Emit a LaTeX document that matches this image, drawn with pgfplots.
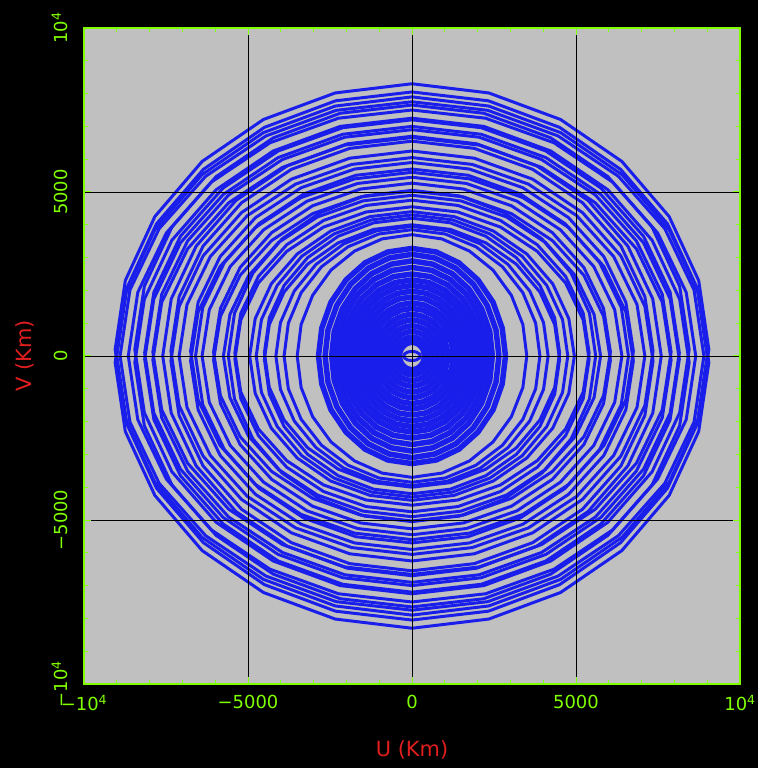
\documentclass[border=0pt]{standalone}
\usepackage{pgfplots}
\pgfplotsset{compat=1.18}
\usepackage{fontspec}
\setmainfont{DejaVu Sans}
\definecolor{tickgreen}{RGB}{128,255,0}
\definecolor{labred}{RGB}{225,30,30}
\definecolor{uvblue}{RGB}{25,30,235}
\definecolor{panel}{RGB}{192,192,192}
\begin{document}
\begin{tikzpicture}
\fill[black] (-84bp,-84bp) rectangle (674bp,684bp);
\begin{axis}[
  at={(0,0)}, anchor=south west,
  width=656bp, height=656bp, scale only axis,
  xmin=-10000, xmax=10000, ymin=-10000, ymax=10000,
  scaled ticks=false,
  axis on top,
  axis background/.style={fill=panel},
  axis line style={tickgreen, line width=1.6pt},
  xtick={-10000,-5000,0,5000,10000},
  ytick={-10000,-5000,0,5000,10000},
  xticklabels={{−10\textsuperscript{4}},{−5000},{0},{5000},{10\textsuperscript{4}}},
  yticklabels={{−10\textsuperscript{4}},{−5000},{0},{5000},{10\textsuperscript{4}}},
  minor tick num=4,
  tick align=inside,
  major tick length=7bp, minor tick length=4bp,
  tick style={tickgreen, line width=1pt},
  grid=major,
  major grid style={black, line width=0.8pt},
  ticklabel style={font=\fontsize{18}{18}\selectfont, text=tickgreen},
  yticklabel style={rotate=90, anchor=south},
  yticklabel shift=13bp,
  xticklabel shift=8bp,
  label style={font=\fontsize{21}{21}\selectfont, text=labred},
  xlabel={U (Km)}, ylabel={V (Km)},
  xlabel style={at={(axis description cs:0.5,-0.1006)}, anchor=center},
  ylabel style={at={(axis description cs:-0.09,0.5)}, anchor=center, rotate=0},
  clip=true,
  track/.style={uvblue, line width=3pt, line join=round},
  inner/.style={uvblue, line width=5.5pt, line join=round},
]
% long baselines: each track and its conjugate (v -> -v)
\addplot[track] coordinates {(9050,200)(8740,2300)(7840,4250)(6400,5930)(4530,7210)(2340,8020)(0,8300)(-2340,8020)(-4530,7210)(-6400,5930)(-7840,4250)(-8740,2300)(-9050,200)(-8740,-1900)(-7840,-3850)(-6400,-5530)(-4530,-6810)(-2340,-7620)(0,-7900)(2340,-7620)(4530,-6810)(6400,-5530)(7840,-3850)(8740,-1900)(9050,200)};
\addplot[track] coordinates {(9050,-200)(8740,-2300)(7840,-4250)(6400,-5930)(4530,-7210)(2340,-8020)(0,-8300)(-2340,-8020)(-4530,-7210)(-6400,-5930)(-7840,-4250)(-8740,-2300)(-9050,-200)(-8740,1900)(-7840,3850)(-6400,5530)(-4530,6810)(-2340,7620)(0,7900)(2340,7620)(4530,6810)(6400,5530)(7840,3850)(8740,1900)(9050,-200)};
\addplot[track] coordinates {(9000,0)(8690,2080)(7790,4030)(6360,5690)(4500,6970)(2330,7780)(0,8050)(-2330,7780)(-4500,6970)(-6360,5690)(-7790,4030)(-8690,2080)(-9000,0)(-8690,-2080)(-7790,-4030)(-6360,-5690)(-4500,-6970)(-2330,-7780)(0,-8050)(2330,-7780)(4500,-6970)(6360,-5690)(7790,-4030)(8690,-2080)(9000,0)};
\addplot[track] coordinates {(8900,0)(8600,2010)(7710,3880)(6290,5480)(4450,6710)(2310,7490)(0,7750)(-2310,7490)(-4450,6710)(-6290,5480)(-7710,3880)(-8600,2010)(-8900,0)(-8600,-2010)(-7710,-3880)(-6290,-5480)(-4450,-6710)(-2310,-7490)(0,-7750)(2310,-7490)(4450,-6710)(6290,-5480)(7710,-3880)(8600,-2010)(8900,0)};
\addplot[track] coordinates {(8650,0)(8360,1940)(7490,3750)(6120,5300)(4330,6500)(2240,7250)(0,7500)(-2240,7250)(-4330,6500)(-6120,5300)(-7490,3750)(-8360,1940)(-8650,0)(-8360,-1940)(-7490,-3750)(-6120,-5300)(-4330,-6500)(-2240,-7250)(0,-7500)(2240,-7250)(4330,-6500)(6120,-5300)(7490,-3750)(8360,-1940)(8650,0)};
\addplot[track] coordinates {(8450,200)(8160,2130)(7320,3930)(5970,5470)(4230,6650)(2190,7400)(0,7650)(-2190,7400)(-4230,6650)(-5970,5470)(-7320,3930)(-8160,2130)(-8450,200)(-8160,-1730)(-7320,-3530)(-5970,-5070)(-4230,-6250)(-2190,-7000)(0,-7250)(2190,-7000)(4230,-6250)(5970,-5070)(7320,-3530)(8160,-1730)(8450,200)};
\addplot[track] coordinates {(8450,-200)(8160,-2130)(7320,-3930)(5970,-5470)(4230,-6650)(2190,-7400)(0,-7650)(-2190,-7400)(-4230,-6650)(-5970,-5470)(-7320,-3930)(-8160,-2130)(-8450,-200)(-8160,1730)(-7320,3530)(-5970,5070)(-4230,6250)(-2190,7000)(0,7250)(2190,7000)(4230,6250)(5970,5070)(7320,3530)(8160,1730)(8450,-200)};
\addplot[track] coordinates {(8150,100)(7870,1940)(7060,3650)(5760,5120)(4080,6250)(2110,6960)(0,7200)(-2110,6960)(-4080,6250)(-5760,5120)(-7060,3650)(-7870,1940)(-8150,100)(-7870,-1740)(-7060,-3450)(-5760,-4920)(-4080,-6050)(-2110,-6760)(0,-7000)(2110,-6760)(4080,-6050)(5760,-4920)(7060,-3450)(7870,-1740)(8150,100)};
\addplot[track] coordinates {(8150,-100)(7870,-1940)(7060,-3650)(5760,-5120)(4080,-6250)(2110,-6960)(0,-7200)(-2110,-6960)(-4080,-6250)(-5760,-5120)(-7060,-3650)(-7870,-1940)(-8150,-100)(-7870,1740)(-7060,3450)(-5760,4920)(-4080,6050)(-2110,6760)(0,7000)(2110,6760)(4080,6050)(5760,4920)(7060,3450)(7870,1740)(8150,-100)};
\addplot[track] coordinates {(7900,120)(7630,1880)(6840,3510)(5590,4910)(3950,5990)(2050,6670)(0,6900)(-2050,6670)(-3950,5990)(-5590,4910)(-6840,3510)(-7630,1880)(-7900,120)(-7630,-1640)(-6840,-3270)(-5590,-4670)(-3950,-5750)(-2050,-6430)(0,-6660)(2050,-6430)(3950,-5750)(5590,-4670)(6840,-3270)(7630,-1640)(7900,120)};
\addplot[track] coordinates {(7900,-120)(7630,-1880)(6840,-3510)(5590,-4910)(3950,-5990)(2050,-6670)(0,-6900)(-2050,-6670)(-3950,-5990)(-5590,-4910)(-6840,-3510)(-7630,-1880)(-7900,-120)(-7630,1640)(-6840,3270)(-5590,4670)(-3950,5750)(-2050,6430)(0,6660)(2050,6430)(3950,5750)(5590,4670)(6840,3270)(7630,1640)(7900,-120)};
\addplot[track] coordinates {(7600,0)(7340,1740)(6580,3350)(5370,4740)(3800,5800)(1970,6470)(0,6700)(-1970,6470)(-3800,5800)(-5370,4740)(-6580,3350)(-7340,1740)(-7600,0)(-7340,-1740)(-6580,-3350)(-5370,-4740)(-3800,-5800)(-1970,-6470)(0,-6700)(1970,-6470)(3800,-5800)(5370,-4740)(6580,-3350)(7340,-1740)(7600,0)};
\addplot[track] coordinates {(7350,150)(7100,1810)(6370,3350)(5200,4670)(3680,5690)(1900,6330)(0,6550)(-1900,6330)(-3680,5690)(-5200,4670)(-6370,3350)(-7100,1810)(-7350,150)(-7100,-1510)(-6370,-3050)(-5200,-4370)(-3680,-5390)(-1900,-6030)(0,-6250)(1900,-6030)(3680,-5390)(5200,-4370)(6370,-3050)(7100,-1510)(7350,150)};
\addplot[track] coordinates {(7350,-150)(7100,-1810)(6370,-3350)(5200,-4670)(3680,-5690)(1900,-6330)(0,-6550)(-1900,-6330)(-3680,-5690)(-5200,-4670)(-6370,-3350)(-7100,-1810)(-7350,-150)(-7100,1510)(-6370,3050)(-5200,4370)(-3680,5390)(-1900,6030)(0,6250)(1900,6030)(3680,5390)(5200,4370)(6370,3050)(7100,1510)(7350,-150)};
\addplot[track] coordinates {(7100,0)(6860,1570)(6150,3030)(5020,4280)(3550,5240)(1840,5840)(0,6050)(-1840,5840)(-3550,5240)(-5020,4280)(-6150,3030)(-6860,1570)(-7100,0)(-6860,-1570)(-6150,-3030)(-5020,-4280)(-3550,-5240)(-1840,-5840)(0,-6050)(1840,-5840)(3550,-5240)(5020,-4280)(6150,-3030)(6860,-1570)(7100,0)};
\addplot[track] coordinates {(6750,150)(6520,1640)(5850,3030)(4770,4220)(3380,5130)(1750,5700)(0,5900)(-1750,5700)(-3380,5130)(-4770,4220)(-5850,3030)(-6520,1640)(-6750,150)(-6520,-1340)(-5850,-2730)(-4770,-3920)(-3380,-4830)(-1750,-5400)(0,-5600)(1750,-5400)(3380,-4830)(4770,-3920)(5850,-2730)(6520,-1340)(6750,150)};
\addplot[track] coordinates {(6750,-150)(6520,-1640)(5850,-3030)(4770,-4220)(3380,-5130)(1750,-5700)(0,-5900)(-1750,-5700)(-3380,-5130)(-4770,-4220)(-5850,-3030)(-6520,-1640)(-6750,-150)(-6520,1340)(-5850,2730)(-4770,3920)(-3380,4830)(-1750,5400)(0,5600)(1750,5400)(3380,4830)(4770,3920)(5850,2730)(6520,1340)(6750,-150)};
\addplot[track] coordinates {(6600,0)(6380,1480)(5720,2850)(4670,4030)(3300,4940)(1710,5510)(0,5700)(-1710,5510)(-3300,4940)(-4670,4030)(-5720,2850)(-6380,1480)(-6600,0)(-6380,-1480)(-5720,-2850)(-4670,-4030)(-3300,-4940)(-1710,-5510)(0,-5700)(1710,-5510)(3300,-4940)(4670,-4030)(5720,-2850)(6380,-1480)(6600,0)};
\addplot[track] coordinates {(6400,0)(6180,1410)(5540,2730)(4520,3850)(3200,4720)(1660,5260)(0,5450)(-1660,5260)(-3200,4720)(-4520,3850)(-5540,2730)(-6180,1410)(-6400,0)(-6180,-1410)(-5540,-2730)(-4520,-3850)(-3200,-4720)(-1660,-5260)(0,-5450)(1660,-5260)(3200,-4720)(4520,-3850)(5540,-2730)(6180,-1410)(6400,0)};
\addplot[track] coordinates {(6050,120)(5840,1450)(5240,2700)(4280,3760)(3030,4580)(1570,5090)(0,5270)(-1570,5090)(-3030,4580)(-4280,3760)(-5240,2700)(-5840,1450)(-6050,120)(-5840,-1210)(-5240,-2460)(-4280,-3520)(-3030,-4340)(-1570,-4850)(0,-5030)(1570,-4850)(3030,-4340)(4280,-3520)(5240,-2460)(5840,-1210)(6050,120)};
\addplot[track] coordinates {(6050,-120)(5840,-1450)(5240,-2700)(4280,-3760)(3030,-4580)(1570,-5090)(0,-5270)(-1570,-5090)(-3030,-4580)(-4280,-3760)(-5240,-2700)(-5840,-1450)(-6050,-120)(-5840,1210)(-5240,2460)(-4280,3520)(-3030,4340)(-1570,4850)(0,5030)(1570,4850)(3030,4340)(4280,3520)(5240,2460)(5840,1210)(6050,-120)};
\addplot[track] coordinates {(5750,0)(5550,1270)(4980,2450)(4070,3460)(2880,4240)(1490,4730)(0,4900)(-1490,4730)(-2880,4240)(-4070,3460)(-4980,2450)(-5550,1270)(-5750,0)(-5550,-1270)(-4980,-2450)(-4070,-3460)(-2880,-4240)(-1490,-4730)(0,-4900)(1490,-4730)(2880,-4240)(4070,-3460)(4980,-2450)(5550,-1270)(5750,0)};
\addplot[track] coordinates {(5600,0)(5410,1310)(4850,2530)(3960,3570)(2800,4370)(1450,4880)(0,5050)(-1450,4880)(-2800,4370)(-3960,3570)(-4850,2530)(-5410,1310)(-5600,0)(-5410,-1310)(-4850,-2530)(-3960,-3570)(-2800,-4370)(-1450,-4880)(0,-5050)(1450,-4880)(2800,-4370)(3960,-3570)(4850,-2530)(5410,-1310)(5600,0)};
\addplot[track] coordinates {(5400,100)(5220,1300)(4680,2430)(3820,3390)(2700,4130)(1400,4590)(0,4750)(-1400,4590)(-2700,4130)(-3820,3390)(-4680,2430)(-5220,1300)(-5400,100)(-5220,-1100)(-4680,-2230)(-3820,-3190)(-2700,-3930)(-1400,-4390)(0,-4550)(1400,-4390)(2700,-3930)(3820,-3190)(4680,-2230)(5220,-1100)(5400,100)};
\addplot[track] coordinates {(5400,-100)(5220,-1300)(4680,-2430)(3820,-3390)(2700,-4130)(1400,-4590)(0,-4750)(-1400,-4590)(-2700,-4130)(-3820,-3390)(-4680,-2430)(-5220,-1300)(-5400,-100)(-5220,1100)(-4680,2230)(-3820,3190)(-2700,3930)(-1400,4390)(0,4550)(1400,4390)(2700,3930)(3820,3190)(4680,2230)(5220,1100)(5400,-100)};
\addplot[track] coordinates {(4950,0)(4780,1140)(4290,2200)(3500,3110)(2480,3810)(1280,4250)(0,4400)(-1280,4250)(-2480,3810)(-3500,3110)(-4290,2200)(-4780,1140)(-4950,0)(-4780,-1140)(-4290,-2200)(-3500,-3110)(-2480,-3810)(-1280,-4250)(0,-4400)(1280,-4250)(2480,-3810)(3500,-3110)(4290,-2200)(4780,-1140)(4950,0)};
\addplot[track] coordinates {(4750,0)(4590,1110)(4110,2150)(3360,3040)(2380,3720)(1230,4150)(0,4300)(-1230,4150)(-2380,3720)(-3360,3040)(-4110,2150)(-4590,1110)(-4750,0)(-4590,-1110)(-4110,-2150)(-3360,-3040)(-2380,-3720)(-1230,-4150)(0,-4300)(1230,-4150)(2380,-3720)(3360,-3040)(4110,-2150)(4590,-1110)(4750,0)};
\addplot[track] coordinates {(4500,100)(4350,1160)(3900,2150)(3180,3000)(2250,3650)(1170,4060)(0,4200)(-1170,4060)(-2250,3650)(-3180,3000)(-3900,2150)(-4350,1160)(-4500,100)(-4350,-960)(-3900,-1950)(-3180,-2800)(-2250,-3450)(-1170,-3860)(0,-4000)(1170,-3860)(2250,-3450)(3180,-2800)(3900,-1950)(4350,-960)(4500,100)};
\addplot[track] coordinates {(4500,-100)(4350,-1160)(3900,-2150)(3180,-3000)(2250,-3650)(1170,-4060)(0,-4200)(-1170,-4060)(-2250,-3650)(-3180,-3000)(-3900,-2150)(-4350,-1160)(-4500,-100)(-4350,960)(-3900,1950)(-3180,2800)(-2250,3450)(-1170,3860)(0,4000)(1170,3860)(2250,3450)(3180,2800)(3900,1950)(4350,960)(4500,-100)};
\addplot[track] coordinates {(4150,0)(4010,1020)(3590,1980)(2930,2790)(2080,3420)(1070,3820)(0,3950)(-1070,3820)(-2080,3420)(-2930,2790)(-3590,1980)(-4010,1020)(-4150,0)(-4010,-1020)(-3590,-1980)(-2930,-2790)(-2080,-3420)(-1070,-3820)(0,-3950)(1070,-3820)(2080,-3420)(2930,-2790)(3590,-1980)(4010,-1020)(4150,0)};
\addplot[track] coordinates {(3900,0)(3770,1000)(3380,1930)(2760,2720)(1950,3330)(1010,3720)(0,3850)(-1010,3720)(-1950,3330)(-2760,2720)(-3380,1930)(-3770,1000)(-3900,0)(-3770,-1000)(-3380,-1930)(-2760,-2720)(-1950,-3330)(-1010,-3720)(0,-3850)(1010,-3720)(1950,-3330)(2760,-2720)(3380,-1930)(3770,-1000)(3900,0)};
\addplot[track] coordinates {(3500,0)(3380,960)(3030,1850)(2470,2620)(1750,3200)(910,3570)(0,3700)(-910,3570)(-1750,3200)(-2470,2620)(-3030,1850)(-3380,960)(-3500,0)(-3380,-960)(-3030,-1850)(-2470,-2620)(-1750,-3200)(-910,-3570)(0,-3700)(910,-3570)(1750,-3200)(2470,-2620)(3030,-1850)(3380,-960)(3500,0)};
% short baselines: dense inner tracks
\addplot[inner] coordinates {(2850,0)(2750,850)(2470,1640)(2010,2320)(1430,2840)(740,3170)(0,3280)(-740,3170)(-1430,2840)(-2010,2320)(-2470,1640)(-2750,850)(-2850,0)(-2750,-850)(-2470,-1640)(-2010,-2320)(-1430,-2840)(-740,-3170)(0,-3280)(740,-3170)(1430,-2840)(2010,-2320)(2470,-1640)(2750,-850)(2850,0)};
\addplot[inner] coordinates {(2650,0)(2560,800)(2290,1550)(1870,2190)(1330,2680)(690,2990)(0,3100)(-690,2990)(-1330,2680)(-1870,2190)(-2290,1550)(-2560,800)(-2650,0)(-2560,-800)(-2290,-1550)(-1870,-2190)(-1330,-2680)(-690,-2990)(0,-3100)(690,-2990)(1330,-2680)(1870,-2190)(2290,-1550)(2560,-800)(2650,0)};
\addplot[inner] coordinates {(2450,0)(2370,750)(2120,1450)(1730,2050)(1230,2510)(630,2800)(0,2900)(-630,2800)(-1230,2510)(-1730,2050)(-2120,1450)(-2370,750)(-2450,0)(-2370,-750)(-2120,-1450)(-1730,-2050)(-1230,-2510)(-630,-2800)(0,-2900)(630,-2800)(1230,-2510)(1730,-2050)(2120,-1450)(2370,-750)(2450,0)};
\addplot[inner] coordinates {(2300,0)(2220,700)(1990,1350)(1630,1910)(1150,2340)(600,2610)(0,2700)(-600,2610)(-1150,2340)(-1630,1910)(-1990,1350)(-2220,700)(-2300,0)(-2220,-700)(-1990,-1350)(-1630,-1910)(-1150,-2340)(-600,-2610)(0,-2700)(600,-2610)(1150,-2340)(1630,-1910)(1990,-1350)(2220,-700)(2300,0)};
\addplot[inner] coordinates {(2150,0)(2080,650)(1860,1250)(1520,1770)(1080,2170)(560,2420)(0,2500)(-560,2420)(-1080,2170)(-1520,1770)(-1860,1250)(-2080,650)(-2150,0)(-2080,-650)(-1860,-1250)(-1520,-1770)(-1080,-2170)(-560,-2420)(0,-2500)(560,-2420)(1080,-2170)(1520,-1770)(1860,-1250)(2080,-650)(2150,0)};
\addplot[inner] coordinates {(2000,0)(1930,600)(1730,1160)(1410,1640)(1000,2010)(520,2240)(0,2320)(-520,2240)(-1000,2010)(-1410,1640)(-1730,1160)(-1930,600)(-2000,0)(-1930,-600)(-1730,-1160)(-1410,-1640)(-1000,-2010)(-520,-2240)(0,-2320)(520,-2240)(1000,-2010)(1410,-1640)(1730,-1160)(1930,-600)(2000,0)};
\addplot[inner] coordinates {(1850,0)(1790,560)(1600,1080)(1310,1520)(930,1860)(480,2080)(0,2150)(-480,2080)(-930,1860)(-1310,1520)(-1600,1080)(-1790,560)(-1850,0)(-1790,-560)(-1600,-1080)(-1310,-1520)(-930,-1860)(-480,-2080)(0,-2150)(480,-2080)(930,-1860)(1310,-1520)(1600,-1080)(1790,-560)(1850,0)};
\addplot[inner] coordinates {(1700,0)(1640,510)(1470,990)(1200,1400)(850,1710)(440,1910)(0,1980)(-440,1910)(-850,1710)(-1200,1400)(-1470,990)(-1640,510)(-1700,0)(-1640,-510)(-1470,-990)(-1200,-1400)(-850,-1710)(-440,-1910)(0,-1980)(440,-1910)(850,-1710)(1200,-1400)(1470,-990)(1640,-510)(1700,0)};
\addplot[inner] coordinates {(1550,0)(1500,470)(1340,900)(1100,1270)(780,1560)(400,1740)(0,1800)(-400,1740)(-780,1560)(-1100,1270)(-1340,900)(-1500,470)(-1550,0)(-1500,-470)(-1340,-900)(-1100,-1270)(-780,-1560)(-400,-1740)(0,-1800)(400,-1740)(780,-1560)(1100,-1270)(1340,-900)(1500,-470)(1550,0)};
\addplot[inner] coordinates {(1400,0)(1350,420)(1210,810)(990,1150)(700,1400)(360,1560)(0,1620)(-360,1560)(-700,1400)(-990,1150)(-1210,810)(-1350,420)(-1400,0)(-1350,-420)(-1210,-810)(-990,-1150)(-700,-1400)(-360,-1560)(0,-1620)(360,-1560)(700,-1400)(990,-1150)(1210,-810)(1350,-420)(1400,0)};
\addplot[inner] coordinates {(1250,0)(1210,380)(1080,730)(880,1030)(630,1260)(320,1400)(0,1450)(-320,1400)(-630,1260)(-880,1030)(-1080,730)(-1210,380)(-1250,0)(-1210,-380)(-1080,-730)(-880,-1030)(-630,-1260)(-320,-1400)(0,-1450)(320,-1400)(630,-1260)(880,-1030)(1080,-730)(1210,-380)(1250,0)};
\addplot[inner, smooth] coordinates {(1100,0)(950,640)(550,1100)(0,1270)(-550,1100)(-950,640)(-1100,0)(-950,-640)(-550,-1100)(0,-1270)(550,-1100)(950,-640)(1100,0)};
\addplot[inner, smooth] coordinates {(950,0)(820,550)(480,950)(0,1100)(-480,950)(-820,550)(-950,0)(-820,-550)(-480,-950)(0,-1100)(480,-950)(820,-550)(950,0)};
\addplot[inner, smooth] coordinates {(800,0)(690,460)(400,800)(0,920)(-400,800)(-690,460)(-800,0)(-690,-460)(-400,-800)(0,-920)(400,-800)(690,-460)(800,0)};
\addplot[inner, smooth] coordinates {(650,0)(560,380)(330,650)(0,750)(-330,650)(-560,380)(-650,0)(-560,-380)(-330,-650)(0,-750)(330,-650)(560,-380)(650,0)};
\addplot[inner, smooth] coordinates {(500,0)(430,290)(250,500)(0,580)(-250,500)(-430,290)(-500,0)(-430,-290)(-250,-500)(0,-580)(250,-500)(430,-290)(500,0)};
\addplot[inner, smooth] coordinates {(380,0)(330,210)(190,360)(0,420)(-190,360)(-330,210)(-380,0)(-330,-210)(-190,-360)(0,-420)(190,-360)(330,-210)(380,0)};
\addplot[track, smooth] coordinates {(250,0)(220,70)(130,120)(0,140)(-130,120)(-220,70)(-250,0)(-220,-70)(-130,-120)(0,-140)(130,-120)(220,-70)(250,0)};
\end{axis}
\end{tikzpicture}
\end{document}
